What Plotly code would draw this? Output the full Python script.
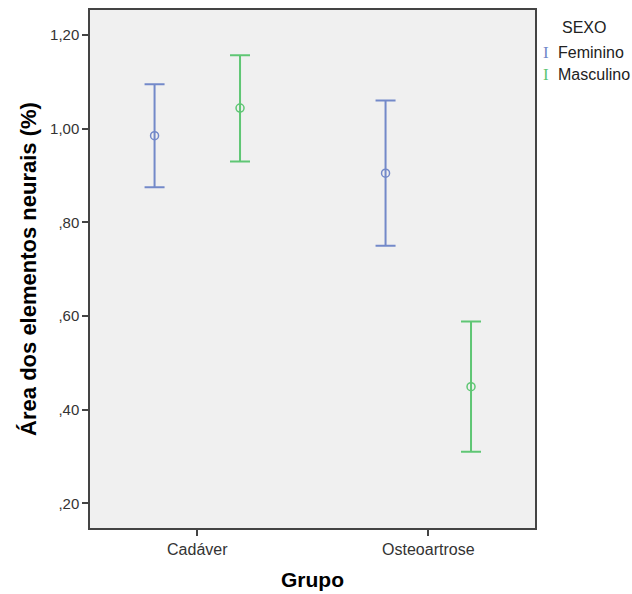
import plotly.graph_objects as go

grupos = ["Cadáver", "Osteoartrose"]
sexos = ["Feminino", "Masculino"]
media = {"Feminino": [0.985, 0.905], "Masculino": [1.044, 0.449]}
superior = {"Feminino": [1.095, 1.060], "Masculino": [1.157, 0.588]}
inferior = {"Feminino": [0.875, 0.750], "Masculino": [0.930, 0.310]}
cores = {"Feminino": "#7389c9", "Masculino": "#5fc674"}

ytick_vals = [0.2, 0.4, 0.6, 0.8, 1.0, 1.2]
ytick_text = [",20", ",40", ",60", ",80", "1,00", "1,20"]

FONT = "Liberation Sans, Arial, sans-serif"

fig = go.Figure()
for s in sexos:
    m = media[s]
    up = [superior[s][i] - m[i] for i in range(len(m))]
    dn = [m[i] - inferior[s][i] for i in range(len(m))]
    fig.add_trace(go.Scatter(
        x=grupos, y=m, mode="markers", name=s,
        marker=dict(symbol="circle-open", size=8, color=cores[s], line=dict(width=1.5)),
        error_y=dict(type="data", symmetric=False, array=up, arrayminus=dn,
                     color=cores[s], thickness=2, width=10),
        showlegend=False,
    ))

fig.update_layout(
    width=632, height=594,
    margin=dict(l=90, r=97, t=10, b=66),
    paper_bgcolor="white", plot_bgcolor="#f0f0f0",
    scattermode="group", scattergap=0.26,
    font=dict(family=FONT, size=13, color="#333333"),
    xaxis=dict(
        type="category", range=[-0.4645, 1.462], automargin=False,
        showline=True, linecolor="#444444", linewidth=1.5, mirror=True,
        ticks="outside", ticklen=6, tickcolor="#444444", tickwidth=1.5,
        showgrid=False, zeroline=False,
        tickfont=dict(family=FONT, size=16, color="#333333"),
        title=dict(text="<b>Grupo</b>", font=dict(family=FONT, size=21, color="#000000"), standoff=15),
    ),
    yaxis=dict(
        range=[0.1473, 1.2534], automargin=False,
        tickvals=ytick_vals, ticktext=ytick_text,
        showline=True, linecolor="#444444", linewidth=1.5, mirror=True,
        ticks="outside", ticklen=6, tickcolor="#444444", tickwidth=1.5,
        showgrid=False, zeroline=False,
        tickfont=dict(family=FONT, size=15, color="#333333"),
        title=dict(text="<b>Área dos elementos neurais (%)</b>", font=dict(family=FONT, size=22, color="#000000"), standoff=7),
    ),
)

fig.add_annotation(xref="paper", yref="paper", x=(584-90)/445, y=(528-27)/518,
                   text="SEXO", showarrow=False, xanchor="center", yanchor="middle",
                   font=dict(family=FONT, size=16, color="#222222"))
for i, s in enumerate(sexos):
    yy = [53, 75][i]
    fig.add_annotation(xref="paper", yref="paper", x=(545.5-90)/445, y=(528-yy)/518,
                       text="I", showarrow=False, xanchor="center", yanchor="middle",
                       font=dict(family="Liberation Serif, serif", size=17, color=cores[s]))
    fig.add_annotation(xref="paper", yref="paper", x=(556-90)/445, y=(528-yy)/518,
                       text=s, showarrow=False, xanchor="left", yanchor="middle",
                       font=dict(family=FONT, size=16, color="#222222"))

fig.write_html("out.html", config={"displayModeBar": False},
               post_script="document.body.style.margin='0';")
